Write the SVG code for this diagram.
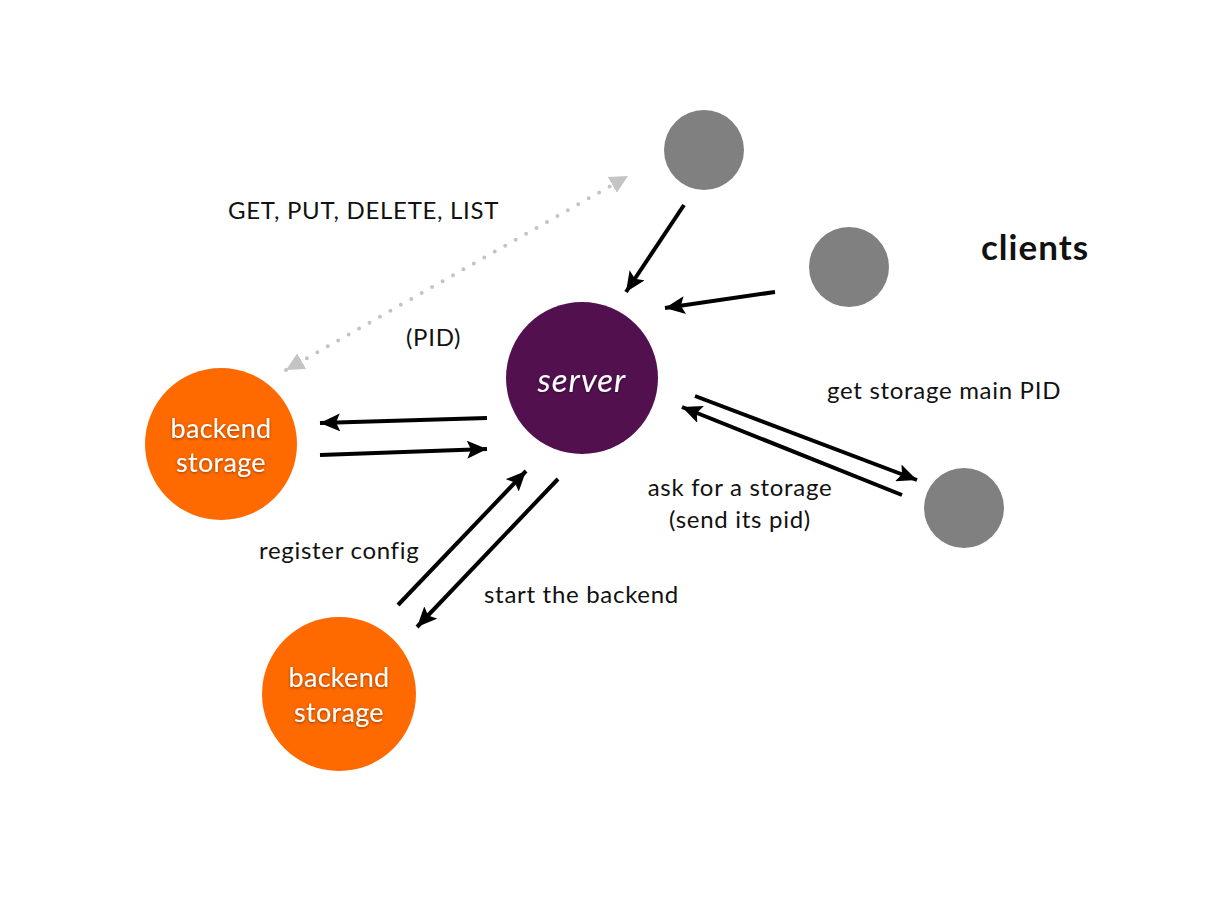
<svg xmlns="http://www.w3.org/2000/svg" width="1213" height="910" viewBox="0 0 1213 910">
<defs>
<style>
.lbl{font-family:Lato,"Open Sans","Liberation Sans",sans-serif;font-size:24px;letter-spacing:0.7px;fill:#111}
.wt{font-family:Lato,"Open Sans","Liberation Sans",sans-serif;fill:#fff;text-anchor:middle}
.bk{font-size:27px;letter-spacing:0.3px}
.arr{stroke:#000;stroke-width:4;fill:none;marker-end:url(#ah)}
.client{fill:#808080}
.backend{fill:#FF6A00}
</style>
<marker id="ah" markerUnits="userSpaceOnUse" markerWidth="22" markerHeight="18" refX="20" refY="9" orient="auto">
<path d="M0,0 L20,9 L0,18 L4,9 z" fill="#000"/>
</marker>
<marker id="gh" markerUnits="userSpaceOnUse" markerWidth="20" markerHeight="18" refX="18" refY="9" orient="auto-start-reverse">
<path d="M0,0 L18,9 L0,18 z" fill="#c4c4c4"/>
</marker>
<filter id="sh" x="-20%" y="-20%" width="140%" height="140%">
<feDropShadow dx="0" dy="1" stdDeviation="1.5" flood-color="#000" flood-opacity="0.45"/>
</filter>
</defs>
<rect width="1213" height="910" fill="#fff"/>
<g id="server">
<circle cx="582" cy="378" r="76" fill="#53104F"/>
<text class="wt" x="582" y="392" font-size="33" font-style="italic" letter-spacing="1" filter="url(#sh)">server</text>
</g>
<g id="backend1">
<circle class="backend" cx="221" cy="444" r="76"/>
<text class="wt bk" x="221" y="438" filter="url(#sh)">backend</text>
<text class="wt bk" x="221" y="472" filter="url(#sh)">storage</text>
</g>
<g id="backend2">
<circle class="backend" cx="339" cy="694" r="77"/>
<text class="wt bk" x="339" y="687" filter="url(#sh)">backend</text>
<text class="wt bk" x="339" y="722" filter="url(#sh)">storage</text>
</g>
<g id="client1"><circle class="client" cx="704" cy="150" r="40"/></g>
<g id="client2"><circle class="client" cx="849" cy="267" r="40"/></g>
<g id="client3"><circle class="client" cx="964" cy="508" r="40"/></g>
<g id="connectors">
<line class="arr" x1="684" y1="205" x2="626" y2="292"/>
<line class="arr" x1="775" y1="292" x2="665" y2="308"/>
<line class="arr" x1="487" y1="418" x2="320" y2="423"/>
<line class="arr" x1="320" y1="455" x2="487" y2="449"/>
<line class="arr" x1="398" y1="605" x2="526" y2="471"/>
<line class="arr" x1="558" y1="479" x2="417" y2="627"/>
<line class="arr" x1="695" y1="396" x2="917" y2="480"/>
<line class="arr" x1="902" y1="495" x2="682" y2="407"/>
<line x1="286" y1="370" x2="628" y2="176" stroke="#c4c4c4" stroke-width="4" stroke-linecap="round" stroke-dasharray="0 12" marker-start="url(#gh)" marker-end="url(#gh)"/>
</g>
<g id="labels">
<text class="lbl" x="228" y="219">GET, PUT, DELETE, LIST</text>
<text class="lbl" x="406" y="346">(PID)</text>
<text x="981" y="260" font-family="Lato,'Open Sans','Liberation Sans',sans-serif" font-size="35" font-weight="bold" letter-spacing="1" fill="#111">clients</text>
<text class="lbl" x="827" y="399">get storage main PID</text>
<text class="lbl" x="740" y="496" text-anchor="middle">ask for a storage</text>
<text class="lbl" x="740" y="528" text-anchor="middle">(send its pid)</text>
<text class="lbl" x="259" y="559">register config</text>
<text class="lbl" x="484" y="603">start the backend</text>
</g>
</svg>
